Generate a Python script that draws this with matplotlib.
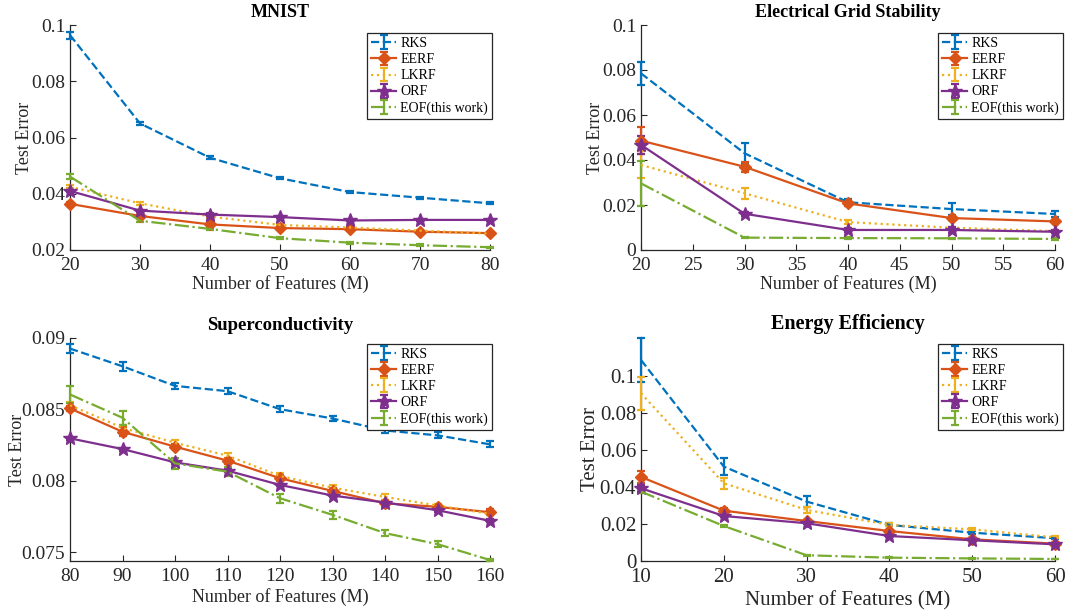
import matplotlib
matplotlib.use("Agg")
import matplotlib.pyplot as plt
from matplotlib.ticker import FuncFormatter

plt.rcParams['font.family'] = ['Liberation Serif', 'DejaVu Serif']
plt.rcParams['mathtext.fontset'] = 'stix'

methods = ["RKS", "EERF", "LKRF", "ORF", "EOF(this work)"]
colors = ["#0072BD", "#D95319", "#EDB120", "#7E2F8E", "#77AC30"]
styles = ["--", "-", ":", "-", "-."]
markers = [None, "D", None, "*", None]

# ---------------- MNIST ----------------
mnist_x = [20, 30, 40, 50, 60, 70, 80]
mnist_rks = [0.0964, 0.0650, 0.0528, 0.0455, 0.0406, 0.0386, 0.0366]
mnist_eerf = [0.0364, 0.0321, 0.0291, 0.0278, 0.0274, 0.0265, 0.0260]
mnist_lkrf = [0.0425, 0.0366, 0.0319, 0.0289, 0.0280, 0.0269, 0.0258]
mnist_orf = [0.0410, 0.0340, 0.0326, 0.0317, 0.0305, 0.0307, 0.0307]
mnist_eof = [0.0461, 0.0304, 0.0275, 0.0242, 0.0226, 0.0217, 0.0210]
mnist_rks_err = [0.0012, 0.0006, 0.0005, 0.0004, 0.0003, 0.0003, 0.0003]
mnist_eerf_err = [0.0006, 0.0004, 0.0004, 0.0004, 0.0003, 0.0003, 0.0003]
mnist_lkrf_err = [0.0006, 0.0005, 0.0004, 0.0004, 0.0003, 0.0003, 0.0003]
mnist_orf_err = [0.0005, 0.0004, 0.0004, 0.0003, 0.0003, 0.0003, 0.0003]
mnist_eof_err = [0.0009, 0.0005, 0.0004, 0.0003, 0.0003, 0.0003, 0.0002]

# ---------------- Electrical Grid Stability ----------------
grid_x = [20, 30, 40, 50, 60]
grid_rks = [0.0785, 0.0430, 0.0212, 0.0182, 0.0160]
grid_eerf = [0.0486, 0.0370, 0.0207, 0.0142, 0.0127]
grid_lkrf = [0.0378, 0.0252, 0.0124, 0.0099, 0.0084]
grid_orf = [0.0467, 0.0161, 0.0089, 0.0089, 0.0081]
grid_eof = [0.0296, 0.0055, 0.0053, 0.0052, 0.0049]
grid_rks_err = [0.0050, 0.0047, 0.0015, 0.0025, 0.0012]
grid_eerf_err = [0.0060, 0.0022, 0.0012, 0.0010, 0.0008]
grid_lkrf_err = [0.0060, 0.0025, 0.0008, 0.0005, 0.0004]
grid_orf_err = [0.0040, 0.0010, 0.0008, 0.0012, 0.0006]
grid_eof_err = [0.0100, 0.0003, 0.0003, 0.0003, 0.0003]

# ---------------- Superconductivity ----------------
sc_x = [80, 90, 100, 110, 120, 130, 140, 150, 160]
sc_rks = [0.08926, 0.08802, 0.08665, 0.08628, 0.08502, 0.08437, 0.08353, 0.08319, 0.08256]
sc_eerf = [0.08507, 0.08344, 0.08240, 0.08142, 0.08019, 0.07930, 0.07844, 0.07819, 0.07781]
sc_lkrf = [0.08530, 0.08372, 0.08267, 0.08177, 0.08035, 0.07953, 0.07888, 0.07828, 0.07770]
sc_orf = [0.08298, 0.08223, 0.08130, 0.08072, 0.07972, 0.07898, 0.07849, 0.07795, 0.07721]
sc_eof = [0.08605, 0.08442, 0.08123, 0.08065, 0.07879, 0.07763, 0.07635, 0.07558, 0.07447]
sc_rks_err = [0.0003, 0.0003, 0.0002, 0.0002, 0.0002, 0.0002, 0.0002, 0.0002, 0.0002]
sc_eerf_err = [0.0002, 0.0003, 0.0002, 0.0002, 0.0002, 0.0002, 0.0002, 0.0002, 0.0002]
sc_lkrf_err = [0.0002, 0.0002, 0.0002, 0.0002, 0.0002, 0.0002, 0.0002, 0.0001, 0.0001]
sc_orf_err = [0.0001, 0.0001, 0.0001, 0.0001, 0.0001, 0.0001, 0.0001, 0.0001, 0.0001]
sc_eof_err = [0.0006, 0.0005, 0.0004, 0.0003, 0.0003, 0.0003, 0.0002, 0.0002, 0.0001]

# ---------------- Energy Efficiency ----------------
ee_x = [10, 20, 30, 40, 50, 60]
ee_rks = [0.1086, 0.0510, 0.0321, 0.0195, 0.0153, 0.0123]
ee_eerf = [0.0454, 0.0272, 0.0216, 0.0162, 0.0117, 0.0094]
ee_lkrf = [0.0906, 0.0420, 0.0276, 0.0195, 0.0171, 0.0128]
ee_orf = [0.0393, 0.0243, 0.0204, 0.0135, 0.0112, 0.0090]
ee_eof = [0.0375, 0.0189, 0.0031, 0.0018, 0.0014, 0.0011]
ee_rks_err = [0.0118, 0.0048, 0.0030, 0.0008, 0.0008, 0.0006]
ee_eerf_err = [0.0030, 0.0015, 0.0008, 0.0006, 0.0005, 0.0005]
ee_lkrf_err = [0.0090, 0.0030, 0.0015, 0.0008, 0.0006, 0.0005]
ee_orf_err = [0.0015, 0.0008, 0.0006, 0.0005, 0.0005, 0.0005]
ee_eof_err = [0.0008, 0.0004, 0.0003, 0.0002, 0.0002, 0.0002]

panels = [
    dict(title="MNIST", x=mnist_x,
         ys=[mnist_rks, mnist_eerf, mnist_lkrf, mnist_orf, mnist_eof],
         es=[mnist_rks_err, mnist_eerf_err, mnist_lkrf_err, mnist_orf_err, mnist_eof_err],
         xlim=(20, 80), ylim=(0.02, 0.1), xticks=[20, 30, 40, 50, 60, 70, 80],
         yticks=[0.02, 0.04, 0.06, 0.08, 0.1],
         pos=[70/1087, 1-250/615, 420/1087, 225/615], leg=(1.005, 0.964),
         fs=14, lfs=13, tfs=13, xl=-0.111, yl=-0.088, xpad=5),
    dict(title="Electrical Grid Stability", x=grid_x,
         ys=[grid_rks, grid_eerf, grid_lkrf, grid_orf, grid_eof],
         es=[grid_rks_err, grid_eerf_err, grid_lkrf_err, grid_orf_err, grid_eof_err],
         xlim=(20, 60), ylim=(0, 0.1), xticks=[20, 25, 30, 35, 40, 45, 50, 55, 60],
         yticks=[0, 0.02, 0.04, 0.06, 0.08, 0.1],
         pos=[641/1087, 1-250/615, 414/1087, 225/615], leg=(1.02, 0.964),
         fs=14, lfs=13, tfs=13, xl=-0.111, yl=-0.089, xpad=5),
    dict(title="Superconductivity", x=sc_x,
         ys=[sc_rks, sc_eerf, sc_lkrf, sc_orf, sc_eof],
         es=[sc_rks_err, sc_eerf_err, sc_lkrf_err, sc_orf_err, sc_eof_err],
         xlim=(80, 160), ylim=(0.0744, 0.09), xticks=[80, 90, 100, 110, 120, 130, 140, 150, 160],
         yticks=[0.075, 0.08, 0.085, 0.09],
         pos=[70/1087, 1-561/615, 420/1087, 223/615], leg=(1.005, 0.973),
         fs=14, lfs=13, tfs=13.5, xl=-0.121, yl=-0.105, xpad=5),
    dict(title="Energy Efficiency", x=ee_x,
         ys=[ee_rks, ee_eerf, ee_lkrf, ee_orf, ee_eof],
         es=[ee_rks_err, ee_eerf_err, ee_lkrf_err, ee_orf_err, ee_eof_err],
         xlim=(10, 60), ylim=(0, 0.121), xticks=[10, 20, 30, 40, 50, 60],
         yticks=[0, 0.02, 0.04, 0.06, 0.08, 0.1],
         pos=[641/1087, 1-561/615, 414/1087, 224/615], leg=(1.02, 0.969),
         fs=15, lfs=15, tfs=14.5, xl=-0.134, yl=-0.100, xpad=5.2),
]

fig = plt.figure(figsize=(10.87, 6.15), dpi=100)
axcol = "#262626"
for p in panels:
    ax = fig.add_axes(p["pos"])
    for i in range(5):
        ms = 0
        if markers[i] == "D":
            ms = 6
        elif markers[i] == "*":
            ms = 10
        ax.errorbar(p["x"], p["ys"][i], yerr=p["es"][i], color=colors[i],
                    linestyle=styles[i], marker=markers[i], markersize=ms,
                    linewidth=1.6, elinewidth=1.6, capsize=3, capthick=1.6,
                    label=methods[i], clip_on=False, zorder=3)
    ax.set_xlim(*p["xlim"])
    ax.set_ylim(*p["ylim"])
    ax.set_xticks(p["xticks"])
    ax.set_yticks(p["yticks"])
    ax.yaxis.set_major_formatter(FuncFormatter(lambda v, pos: "%g" % round(v, 4)))
    for s in ["top", "right"]:
        ax.spines[s].set_visible(False)
    for s in ["left", "bottom"]:
        ax.spines[s].set_color(axcol)
        ax.spines[s].set_linewidth(0.9)
    ax.tick_params(direction="in", length=4, width=0.8, colors=axcol,
                   labelsize=p["fs"])
    ax.tick_params(axis="x", pad=p["xpad"])
    ax.tick_params(axis="y", pad=3.5)
    ax.set_xlabel("Number of Features (M)", fontsize=p["lfs"], color=axcol)
    ax.set_ylabel("Test Error", fontsize=p["lfs"], color=axcol)
    ax.xaxis.set_label_coords(0.5, p["xl"])
    ax.yaxis.set_label_coords(p["yl"], 0.5)
    ax.set_title(p["title"], fontsize=p["tfs"], fontweight="bold", pad=6)
    leg = ax.legend(loc="upper right", bbox_to_anchor=p["leg"], borderaxespad=0,
                    fontsize=10, fancybox=False, edgecolor=axcol, framealpha=1,
                    handlelength=1.8, handletextpad=0.3, labelspacing=0.22,
                    borderpad=0.3)
    leg.get_frame().set_linewidth(0.9)

fig.savefig("out.png", dpi=100)
